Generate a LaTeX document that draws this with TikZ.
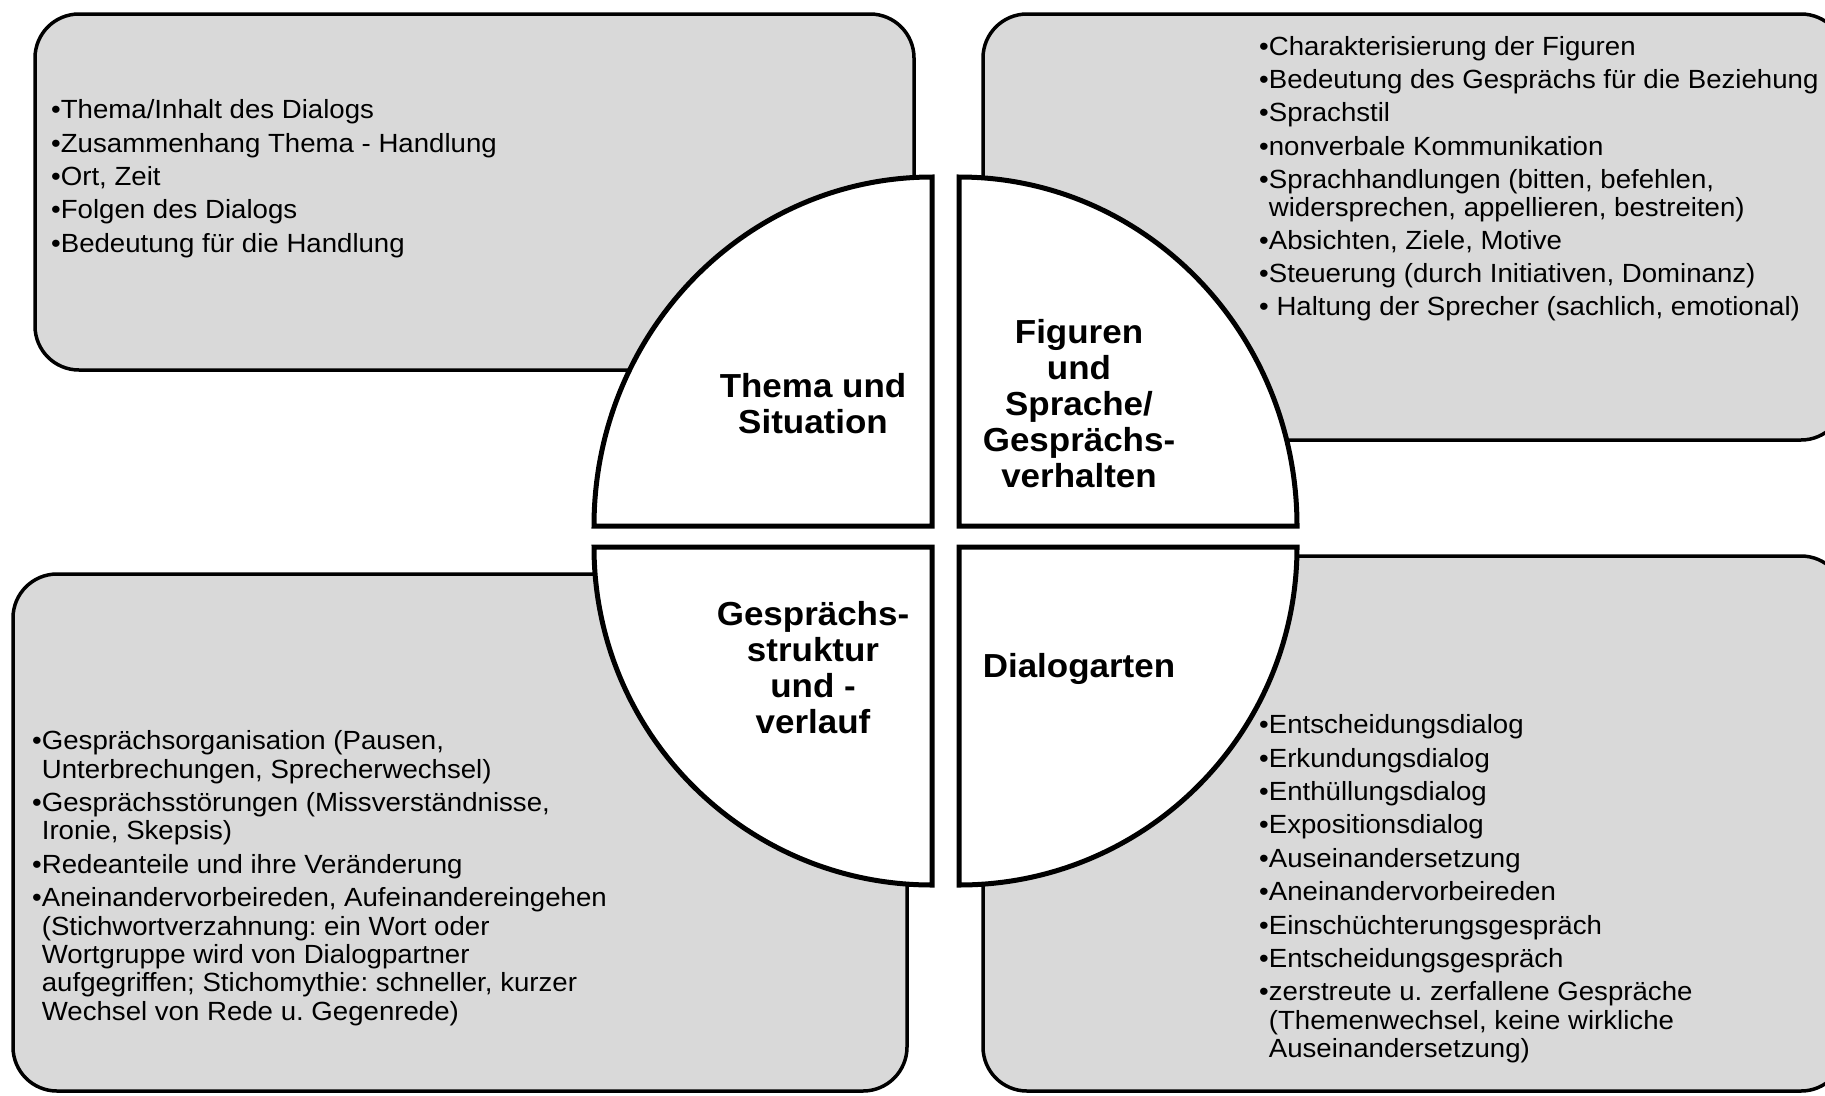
\documentclass[tikz,border=0pt]{standalone}
\usepackage{fontspec}
\setmainfont{Liberation Sans}[FakeStretch=1.05]
\usepackage{xcolor}
\definecolor{boxgray}{HTML}{D9D9D9}
\newcommand{\wrapind}{\hphantom{•}}
\frenchspacing

\tikzset{
  infobox/.style={draw=black, line width=3.5pt, fill=boxgray, rounded corners=44pt},
  quarter/.style={draw=black, line width=5pt, fill=white},
  topic/.style={font=\fontsize{33.3}{36}\selectfont\bfseries, align=center, inner sep=0pt},
  items/.style={font=\fontsize{26.3}{28.4}\selectfont, align=left, anchor=north west, inner sep=0pt},
}

\begin{document}
\begin{tikzpicture}[x=1pt, y=-1pt]
  \useasboundingbox (0,0) rectangle (1825,1095);
  \clip (0,0) rectangle (1825,1095);

  \draw[infobox] (35,14)   rectangle (914,370);
  \draw[infobox] (983,14)  rectangle (1845,440);
  \draw[infobox] (13,574)  rectangle (907,1091);
  \draw[infobox] (983,556) rectangle (1845,1091);

  \draw[quarter] (932,526) -- (594,526) arc[start angle=180, end angle=90, x radius=338pt, y radius=349pt] -- cycle;
  \draw[quarter] (959,526) -- (959,177) arc[start angle=90, end angle=0, x radius=338pt, y radius=349pt] -- cycle;
  \draw[quarter] (932,547) -- (932,885) arc[start angle=270, end angle=180, x radius=338pt, y radius=338pt] -- cycle;
  \draw[quarter] (959,547) -- (1297,547) arc[start angle=0, end angle=-90, x radius=338pt, y radius=338pt] -- cycle;

  \node[topic] (thema)   at (813,403.5) {Thema und\\Situation};
  \node[topic] (figuren) at (1079,403.5) {Figuren\\und\\Sprache/\\Gesprächs-\\verhalten};
  \node[topic] (struktur) at (813,668) {Gesprächs-\\struktur\\und -\\verlauf};
  \node[topic] (arten)   at (1079,669) {Dialogarten};

  \node[items] (themalist) at (51,99.5) {•Thema/Inhalt des Dialogs\\[5pt]
    •Zusammenhang Thema - Handlung\\[5pt]
    •Ort, Zeit\\[5pt]
    •Folgen des Dialogs\\[5pt]
    •Bedeutung für die Handlung};

  \node[items] (figurenlist) at (1259,36.5) {•Charakterisierung der Figuren\\[4.7pt]
    •Bedeutung des Gesprächs für die Beziehung\\[4.7pt]
    •Sprachstil\\[4.7pt]
    •nonverbale Kommunikation\\[4.7pt]
    •Sprachhandlungen (bitten, befehlen,\\
    \wrapind widersprechen, appellieren, bestreiten)\\[4.7pt]
    •Absichten, Ziele, Motive\\[4.7pt]
    •Steuerung (durch Initiativen, Dominanz)\\[4.7pt]
    • Haltung der Sprecher (sachlich, emotional)};

  \node[items] (strukturlist) at (32,730.5) {•Gesprächsorganisation (Pausen,\\
    \wrapind Unterbrechungen, Sprecherwechsel)\\[5pt]
    •Gesprächsstörungen (Missverständnisse,\\
    \wrapind Ironie, Skepsis)\\[5pt]
    •Redeanteile und ihre Veränderung\\[5pt]
    •Aneinandervorbeireden, Aufeinandereingehen\\
    \wrapind (Stichwortverzahnung: ein Wort oder\\
    \wrapind Wortgruppe wird von Dialogpartner\\
    \wrapind aufgegriffen; Stichomythie: schneller, kurzer\\
    \wrapind Wechsel von Rede u. Gegenrede)};

  \node[items] (artenlist) at (1259,714.5) {•Entscheidungsdialog\\[5pt]
    •Erkundungsdialog\\[5pt]
    •Enthüllungsdialog\\[5pt]
    •Expositionsdialog\\[5pt]
    •Auseinandersetzung\\[5pt]
    •Aneinandervorbeireden\\[5pt]
    •Einschüchterungsgespräch\\[5pt]
    •Entscheidungsgespräch\\[5pt]
    •zerstreute u. zerfallene Gespräche\\
    \wrapind (Themenwechsel, keine wirkliche\\
    \wrapind Auseinandersetzung)};
\end{tikzpicture}
\end{document}
